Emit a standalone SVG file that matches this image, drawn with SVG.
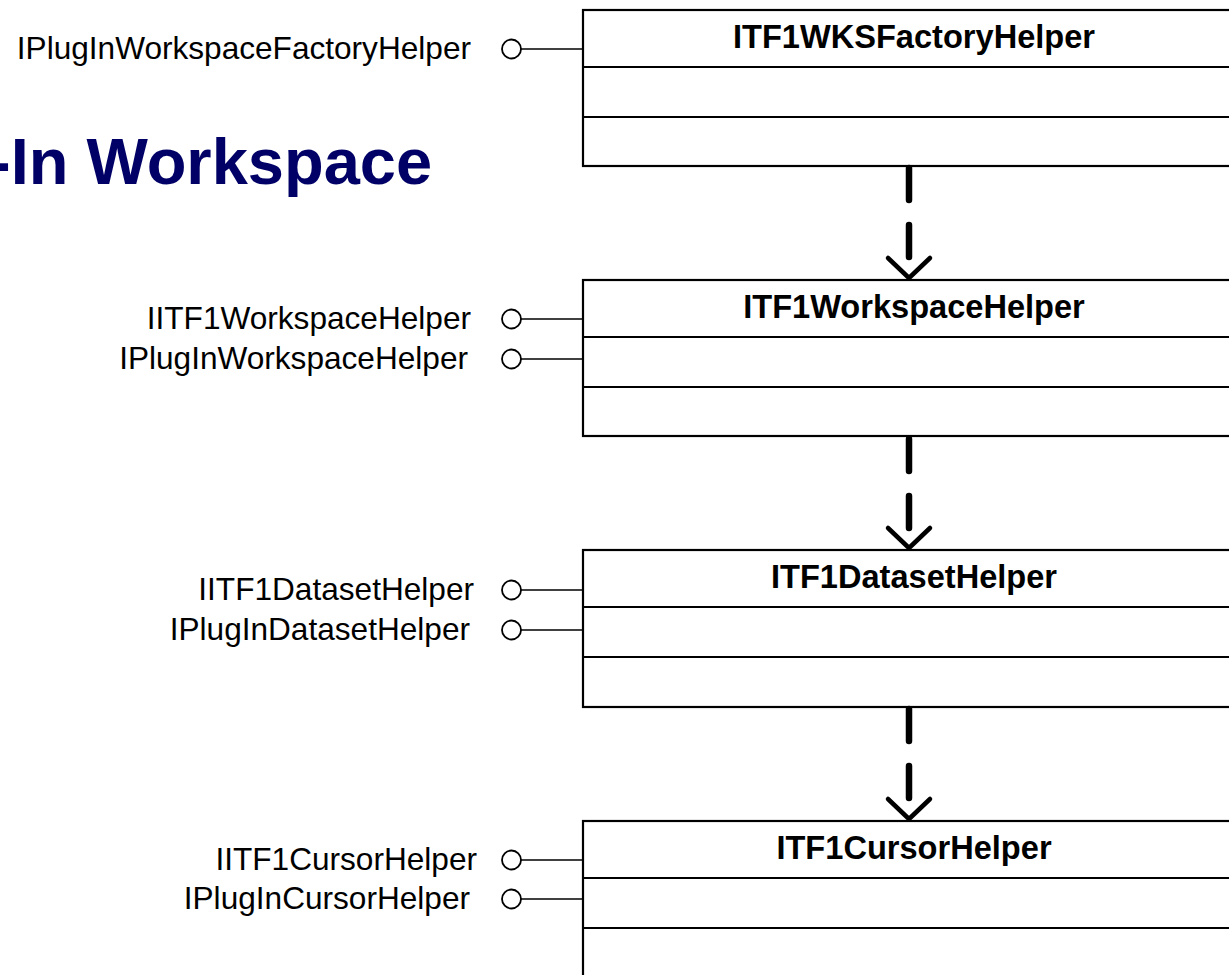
<svg xmlns="http://www.w3.org/2000/svg" width="1229" height="975" viewBox="0 0 1229 975">
<style>
.box{fill:#fff;stroke:#000;stroke-width:2.2}
.div{stroke:#000;stroke-width:2.2}
.hdr{font-family:"Liberation Sans",Arial,sans-serif;font-weight:bold;font-size:32.6px;fill:#000;text-anchor:middle}
.lbl{font-family:"Liberation Sans",Arial,sans-serif;font-size:31.6px;fill:#000;text-anchor:end}
.lol{fill:#fff;stroke:#000;stroke-width:1.8}
.stem{stroke:#000;stroke-width:1.6}
.dep{fill:none;stroke:#000;stroke-width:6.5;stroke-linecap:round;stroke-dasharray:32 25}
.title{font-family:"Liberation Sans",Arial,sans-serif;font-weight:bold;font-size:65px;fill:#000066}
</style>
<defs>
<marker id="open" markerUnits="userSpaceOnUse" markerWidth="60" markerHeight="60" refX="0" refY="0" orient="auto" overflow="visible">
<path d="M-20,-21 L0,0 L-20,21" fill="none" stroke="#000" stroke-width="4.5" stroke-linecap="round" stroke-linejoin="round"/>
</marker>
</defs>
<rect width="1229" height="975" fill="#fff"/>
<text class="title" x="-11" y="184">-In Workspace</text>

<g id="node-wksfactory">
<rect class="box" x="583" y="10" width="660" height="156"/>
<line class="div" x1="583" y1="67" x2="1243" y2="67"/>
<line class="div" x1="583" y1="117" x2="1243" y2="117"/>
<text class="hdr" x="914" y="48">ITF1WKSFactoryHelper</text>
<line class="stem" x1="521" y1="49" x2="583" y2="49"/>
<circle class="lol" cx="511.5" cy="49" r="9.5"/>
<text class="lbl" x="471" y="59">IPlugInWorkspaceFactoryHelper</text>
</g>

<g id="node-workspace">
<rect class="box" x="583" y="280" width="660" height="156"/>
<line class="div" x1="583" y1="337" x2="1243" y2="337"/>
<line class="div" x1="583" y1="387" x2="1243" y2="387"/>
<text class="hdr" x="914" y="318">ITF1WorkspaceHelper</text>
<line class="stem" x1="521" y1="319" x2="583" y2="319"/>
<circle class="lol" cx="511.5" cy="319" r="9.5"/>
<text class="lbl" x="471" y="329">IITF1WorkspaceHelper</text>
<line class="stem" x1="521" y1="359" x2="583" y2="359"/>
<circle class="lol" cx="511.5" cy="359" r="9.5"/>
<text class="lbl" x="468" y="369">IPlugInWorkspaceHelper</text>
</g>

<g id="node-dataset">
<rect class="box" x="583" y="550" width="660" height="157"/>
<line class="div" x1="583" y1="607" x2="1243" y2="607"/>
<line class="div" x1="583" y1="657" x2="1243" y2="657"/>
<text class="hdr" x="914" y="588">ITF1DatasetHelper</text>
<line class="stem" x1="521" y1="590" x2="583" y2="590"/>
<circle class="lol" cx="511.5" cy="590" r="9.5"/>
<text class="lbl" x="474" y="600">IITF1DatasetHelper</text>
<line class="stem" x1="521" y1="630" x2="583" y2="630"/>
<circle class="lol" cx="511.5" cy="630" r="9.5"/>
<text class="lbl" x="470" y="640">IPlugInDatasetHelper</text>
</g>

<g id="node-cursor">
<rect class="box" x="583" y="821" width="660" height="170"/>
<line class="div" x1="583" y1="878" x2="1243" y2="878"/>
<line class="div" x1="583" y1="928" x2="1243" y2="928"/>
<text class="hdr" x="914" y="859">ITF1CursorHelper</text>
<line class="stem" x1="521" y1="860" x2="583" y2="860"/>
<circle class="lol" cx="511.5" cy="860" r="9.5"/>
<text class="lbl" x="477" y="870">IITF1CursorHelper</text>
<line class="stem" x1="521" y1="899" x2="583" y2="899"/>
<circle class="lol" cx="511.5" cy="899" r="9.5"/>
<text class="lbl" x="470" y="909">IPlugInCursorHelper</text>
</g>

<g id="connectors">
<path class="dep" d="M909,168 L909,278" marker-end="url(#open)"/>
<path class="dep" d="M909,439 L909,548" marker-end="url(#open)"/>
<path class="dep" d="M909,709 L909,819" marker-end="url(#open)"/>
</g>
</svg>
